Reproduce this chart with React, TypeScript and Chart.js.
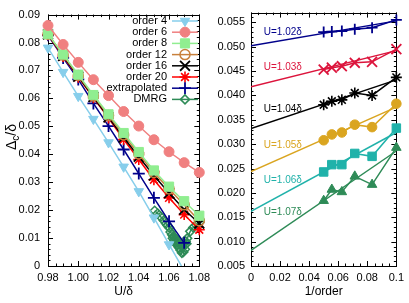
import React, { useEffect, useRef } from 'react';
import { Chart, registerables } from 'chart.js';
import { drawPoint } from 'chart.js/helpers';

Chart.register(...registerables);

const FONT = 'Liberation Sans, Arial, Helvetica, sans-serif';

// ---------- Left panel data ----------
const uValues = [0.98, 0.99, 1.0, 1.01, 1.02, 1.03, 1.04, 1.05, 1.06, 1.07, 1.08];
const order4 = [0.0781, 0.0694, 0.0608, 0.0526, 0.0442, 0.0355, 0.0267, 0.0173, 0.0077, -0.0017];
const order6 = [0.0861, 0.0793, 0.0729, 0.0667, 0.061, 0.0553, 0.0501, 0.0452, 0.0409, 0.037, 0.0335];
const order8 = [0.083, 0.0757, 0.0685, 0.0612, 0.0543, 0.0476, 0.0408, 0.0342, 0.0284, 0.0232, 0.018];
const order12 = [0.083, 0.0755, 0.0682, 0.0609, 0.0539, 0.0469, 0.0401, 0.0335, 0.0276, 0.0219, 0.0162];
const order16 = [0.0829, 0.0752, 0.0678, 0.0605, 0.0532, 0.046, 0.0391, 0.0324, 0.0261, 0.0202, 0.0152];
const order20 = [0.0828, 0.075, 0.0676, 0.0602, 0.053, 0.0453, 0.0381, 0.0309, 0.0244, 0.0184, 0.013];
const extrapolated = [0.0826, 0.0745, 0.0668, 0.0582, 0.0501, 0.0417, 0.0331, 0.0244, 0.016, 0.0083];
const dmrgU = [
  1.0505, 1.0525, 1.0545, 1.0565, 1.058, 1.059, 1.06, 1.061, 1.062, 1.0625, 1.063, 1.0635, 1.064, 1.0645,
  1.065, 1.0655, 1.066, 1.0665, 1.067, 1.0675, 1.068, 1.0685, 1.069, 1.0695, 1.07, 1.0705, 1.071, 1.0715,
  1.072, 1.074, 1.076, 1.078, 1.08,
];
const dmrgGap = [
  0.0198, 0.0188, 0.0176, 0.0163, 0.0152, 0.0145, 0.0138, 0.0122, 0.0112, 0.0099, 0.0106, 0.009, 0.0099, 0.0082,
  0.0093, 0.0074, 0.0086, 0.0066, 0.008, 0.0057, 0.0075, 0.0047, 0.0068, 0.005, 0.0074, 0.006, 0.0088, 0.008,
  0.0099, 0.0124, 0.0138, 0.0147, 0.0156,
];
const leftLegend = ['order 4', 'order 6', 'order 8', 'order 12', 'order 16', 'order 20', 'extrapolated', 'DMRG'];
const leftXTicks = [0.98, 1.0, 1.02, 1.04, 1.06, 1.08];
const leftYTicks = [0, 0.01, 0.02, 0.03, 0.04, 0.05, 0.06, 0.07, 0.08, 0.09];

// ---------- Right panel data ----------
const invOrder = [0.05, 0.0556, 0.0625, 0.0714, 0.0833, 0.1];
const gapU102 = [0.053, 0.0531, 0.0532, 0.0536, 0.0539, 0.0555];
const gapU103 = [0.0453, 0.0457, 0.046, 0.0467, 0.0469, 0.0495];
const gapU104 = [0.0381, 0.0388, 0.0391, 0.0405, 0.04, 0.0437];
const gapU105 = [0.0308, 0.032, 0.0324, 0.034, 0.0335, 0.0383];
const gapU106 = [0.0243, 0.0258, 0.0258, 0.0281, 0.0275, 0.0333];
const gapU107 = [0.0184, 0.0207, 0.0202, 0.0234, 0.0217, 0.0293];
const fitX = [0, 0.1];
const fitStart = [0.0502, 0.0418, 0.0332, 0.0244, 0.0162, 0.0082];
const fitEnd = [0.0553, 0.0492, 0.0432, 0.0376, 0.0324, 0.0286];
const uLabels = ['U=1.02δ', 'U=1.03δ', 'U=1.04δ', 'U=1.05δ', 'U=1.06δ', 'U=1.07δ'];
const rightXTicks = [0, 0.02, 0.04, 0.06, 0.08, 0.1];
const rightYTicks = [0.005, 0.01, 0.015, 0.02, 0.025, 0.03, 0.035, 0.04, 0.045, 0.05, 0.055];

const pts = (xs: number[], ys: number[]) => ys.map((y, i) => ({ x: xs[i], y }));

type Style = { color: string; fill: string; pointStyle: string; radius: number; rotation?: number; bw: number };

const leftStyles: Style[] = [
  { color: '#87ceeb', fill: '#87ceeb', pointStyle: 'triangle', radius: 5.5, rotation: 180, bw: 1 },
  { color: '#f08080', fill: '#f08080', pointStyle: 'circle', radius: 5, bw: 1 },
  { color: '#90ee90', fill: '#90ee90', pointStyle: 'rect', radius: 6.5, bw: 1 },
  { color: '#c8803c', fill: 'rgba(0,0,0,0)', pointStyle: 'circle', radius: 5, bw: 1.5 },
  { color: '#000000', fill: '#000000', pointStyle: 'crossRot', radius: 7, bw: 1.8 },
  { color: '#ff0000', fill: '#ff0000', pointStyle: 'star', radius: 5.5, bw: 1.6 },
  { color: '#00008b', fill: '#00008b', pointStyle: 'cross', radius: 6, bw: 1.8 },
  { color: '#2e8b57', fill: 'rgba(0,0,0,0)', pointStyle: 'rectRot', radius: 4.5, bw: 1.5 },
];

const rightStyles: Style[] = [
  { color: '#00008b', fill: '#00008b', pointStyle: 'cross', radius: 5.5, bw: 1.8 },
  { color: '#dc143c', fill: '#dc143c', pointStyle: 'crossRot', radius: 7, bw: 1.8 },
  { color: '#000000', fill: '#000000', pointStyle: 'star', radius: 5.5, bw: 1.6 },
  { color: '#daa520', fill: '#daa520', pointStyle: 'circle', radius: 4.8, bw: 1 },
  { color: '#20b2aa', fill: '#20b2aa', pointStyle: 'rect', radius: 6, bw: 1 },
  { color: '#2e8b57', fill: '#2e8b57', pointStyle: 'triangle', radius: 5.5, bw: 1 },
];

const ds = (label: string, data: { x: number; y: number }[], s: Style, extra: any = {}) => ({
  label,
  data,
  borderColor: s.color,
  backgroundColor: s.fill,
  pointBackgroundColor: s.fill,
  pointBorderColor: s.color,
  pointStyle: s.pointStyle,
  pointRadius: s.radius,
  pointRotation: s.rotation || 0,
  pointBorderWidth: s.bw,
  borderWidth: 1.5,
  showLine: true,
  tension: 0,
  clip: false,
  ...extra,
});

const framePlugin = {
  id: 'frame',
  beforeDatasetsDraw(chart: any, _a: any, opts: any) {
    const { ctx, chartArea: a } = chart;
    const xs = chart.scales.x;
    const ys = chart.scales.y;
    ctx.save();
    ctx.strokeStyle = '#000';
    ctx.lineWidth = 1;
    const major = 5;
    const minor = 2.5;
    const line = (x1: number, y1: number, x2: number, y2: number) => {
      ctx.beginPath();
      ctx.moveTo(x1, y1);
      ctx.lineTo(x2, y2);
      ctx.stroke();
    };
    const doAxis = (scale: any, step: number, len: number, horiz: boolean) => {
      const n = Math.round((scale.max - scale.min) / step);
      for (let i = 0; i <= n; i++) {
        const p = Math.round(scale.getPixelForValue(scale.min + i * step)) + 0.5;
        if (horiz) {
          line(p, a.bottom, p, a.bottom - len);
          line(p, a.top, p, a.top + len);
        } else {
          line(a.left, p, a.left + len, p);
          line(a.right, p, a.right - len, p);
        }
      }
    };
    doAxis(xs, opts.xMinor, minor, true);
    doAxis(ys, opts.yMinor, minor, false);
    xs.ticks.forEach((t: any) => {
      const p = Math.round(xs.getPixelForValue(t.value)) + 0.5;
      line(p, a.bottom, p, a.bottom - major);
      line(p, a.top, p, a.top + major);
    });
    ys.ticks.forEach((t: any) => {
      const p = Math.round(ys.getPixelForValue(t.value)) + 0.5;
      line(a.left, p, a.left + major, p);
      line(a.right, p, a.right - major, p);
    });
    ctx.strokeRect(Math.round(a.left) + 0.5, Math.round(a.top) + 0.5, Math.round(a.right - a.left), Math.round(a.bottom - a.top));
    ctx.restore();
  },
  afterDraw(chart: any, _a: any, opts: any) {
    const { ctx, chartArea: a } = chart;
    ctx.save();
    ctx.fillStyle = '#000';
    ctx.font = `12px ${FONT}`;
    ctx.textAlign = 'center';
    ctx.textBaseline = 'middle';
    ctx.fillText(opts.xTitle, (a.left + a.right) / 2, 292);
    if (opts.yTitle) {
      ctx.translate(11, 137);
      ctx.rotate(-Math.PI / 2);
      ctx.textAlign = 'left';
      ctx.textBaseline = 'alphabetic';
      ctx.font = `14px ${FONT}`;
      const w1 = ctx.measureText('Δ').width;
      ctx.font = `10px ${FONT}`;
      const w2 = ctx.measureText('c').width;
      ctx.font = `14px ${FONT}`;
      const w3 = ctx.measureText('/δ').width;
      let x = -(w1 + w2 + w3) / 2;
      ctx.fillText('Δ', x, 5);
      x += w1;
      ctx.font = `10px ${FONT}`;
      ctx.fillText('c', x, 8);
      x += w2;
      ctx.font = `14px ${FONT}`;
      ctx.fillText('/δ', x, 5);
    }
    ctx.restore();
  },
};

const leftLegendPlugin = {
  id: 'leftLegend',
  afterDatasetsDraw(chart: any) {
    const { ctx } = chart;
    ctx.save();
    ctx.font = `11px ${FONT}`;
    ctx.textAlign = 'right';
    ctx.textBaseline = 'middle';
    leftLegend.forEach((lab, i) => {
      const y = 21 + i * 11.2;
      const s = leftStyles[i];
      ctx.fillStyle = '#000';
      ctx.fillText(lab, 167, y);
      ctx.strokeStyle = s.color;
      ctx.lineWidth = 1.5;
      ctx.beginPath();
      ctx.moveTo(172, y);
      ctx.lineTo(198, y);
      ctx.stroke();
      ctx.fillStyle = s.fill;
      ctx.lineWidth = s.bw;
      drawPoint(ctx, { pointStyle: s.pointStyle, radius: s.radius, rotation: s.rotation || 0, borderWidth: s.bw } as any, 185, y);
    });
    ctx.restore();
  },
};

const rightLabelPlugin = {
  id: 'rightLabels',
  afterDatasetsDraw(chart: any) {
    const { ctx } = chart;
    const xs = chart.scales.x;
    const ys = chart.scales.y;
    const labelY = [0.0529, 0.0457, 0.0372, 0.0297, 0.0226, 0.016];
    ctx.save();
    ctx.font = `10px ${FONT}`;
    ctx.textAlign = 'left';
    ctx.textBaseline = 'middle';
    uLabels.forEach((lab, i) => {
      ctx.fillStyle = rightStyles[i].color;
      ctx.fillText(lab, xs.getPixelForValue(0.0088), ys.getPixelForValue(labelY[i]));
    });
    ctx.restore();
  },
};

const axisCommon = (min: number, max: number, ticks: number[], fmt: (v: number) => string, isX: boolean, fitSize: number, pad: number) => ({
  type: 'linear',
  min,
  max,
  grid: { display: false, drawTicks: false },
  border: { display: false },
  afterBuildTicks: (scale: any) => {
    scale.ticks = ticks.map((v) => ({ value: v }));
  },
  afterFit: (scale: any) => {
    if (isX) scale.height = fitSize;
    else scale.width = fitSize;
  },
  ticks: {
    autoSkip: false,
    maxRotation: 0,
    minRotation: 0,
    padding: pad,
    color: '#000',
    font: { family: FONT, size: 11 },
    callback: (v: number) => fmt(v),
  },
});

function LeftChart() {
  const ref = useRef<HTMLCanvasElement>(null);
  useEffect(() => {
    const series = [order4, order6, order8, order12, order16, order20, extrapolated];
    const datasets: any[] = series.map((s, i) =>
      ds(leftLegend[i], pts(uValues, s), leftStyles[i], i === 0 ? { clip: { left: 10, top: 10, right: 10, bottom: 0 } } : {})
    );
    datasets.push(ds('DMRG', pts(dmrgU, dmrgGap), leftStyles[7]));
    const chart = new Chart(ref.current as HTMLCanvasElement, {
      type: 'line',
      data: { datasets },
      plugins: [framePlugin, leftLegendPlugin],
      options: {
        animation: false,
        responsive: false,
        layout: { padding: { left: 0, right: 15, top: 9.5, bottom: 0 } },
        plugins: {
          legend: { display: false },
          tooltip: { enabled: false },
          frame: { xMinor: 0.005, yMinor: 0.002, xTitle: 'U/δ', yTitle: true },
        } as any,
        scales: {
          x: axisCommon(0.98, 1.08, leftXTicks, (v) => v.toFixed(2), true, 37, 5),
          y: axisCommon(0, 0.09, leftYTicks, (v) => (v === 0 ? '0' : v.toFixed(2)), false, 48, 8),
        } as any,
      },
    });
    return () => chart.destroy();
  }, []);
  return <canvas ref={ref} width={215} height={303} style={{ position: 'absolute', left: 0, top: 0 }} />;
}

function RightChart() {
  const ref = useRef<HTMLCanvasElement>(null);
  useEffect(() => {
    const series = [gapU102, gapU103, gapU104, gapU105, gapU106, gapU107];
    const datasets: any[] = [];
    series.forEach((s, i) => {
      datasets.push({
        label: uLabels[i] + ' fit',
        data: pts(fitX, [fitStart[i], fitEnd[i]]),
        borderColor: rightStyles[i].color,
        borderWidth: 1.5,
        pointRadius: 0,
        showLine: true,
        tension: 0,
      });
      datasets.push(ds(uLabels[i], pts(invOrder, s), rightStyles[i]));
    });
    const chart = new Chart(ref.current as HTMLCanvasElement, {
      type: 'line',
      data: { datasets },
      plugins: [framePlugin, rightLabelPlugin],
      options: {
        animation: false,
        responsive: false,
        layout: { padding: { left: 0, right: 9, top: 9, bottom: 0 } },
        plugins: {
          legend: { display: false },
          tooltip: { enabled: false },
          frame: { xMinor: 0.005, yMinor: 0.001, xTitle: '1/order', yTitle: false },
        } as any,
        scales: {
          x: axisCommon(0, 0.1, rightXTicks, (v) => (v === 0 ? '0' : Math.abs(v - 0.1) < 1e-9 ? '0.1' : v.toFixed(2)), true, 37, 5),
          y: axisCommon(0.005, 0.057, rightYTicks, (v) => v.toFixed(3), false, 51, 6),
        } as any,
      },
    });
    return () => chart.destroy();
  }, []);
  return <canvas ref={ref} width={209} height={303} style={{ position: 'absolute', left: 200, top: 0 }} />;
}

export default function App() {
  return (
    <div style={{ position: 'fixed', left: 0, top: 0, width: 409, height: 303, background: '#fff' }}>
      <LeftChart />
      <RightChart />
    </div>
  );
}
